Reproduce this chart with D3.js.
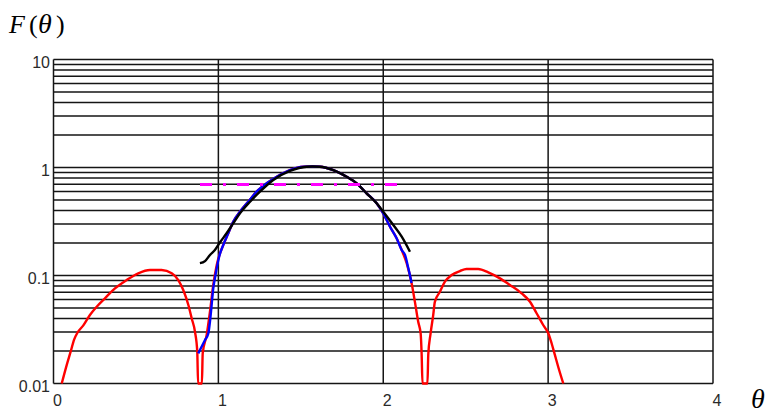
<!DOCTYPE html>
<html><head><meta charset="utf-8">
<script src="https://cdn.jsdelivr.net/npm/d3@7"></script>
<style>
html,body{margin:0;padding:0;background:#fff;overflow:hidden;}
svg{display:block;}
</style></head>
<body>
<svg id="chart" width="771" height="414"></svg>
<script>
// ---- data ----
const xTicks = [0, 1, 2, 3, 4];
const yTicks = [0.01, 0.1, 1, 10];
const yTickLabels = ["0.01", "0.1", "1", "10"];

// red: full pattern F(theta)
const redTheta = [0.050,0.080,0.104,0.125,0.145,0.181,0.221,0.262,0.312,0.373,0.444,0.514,0.585,0.656,0.717,0.757,0.787,0.818,0.838,0.858,0.872,0.877,0.889,0.900,0.905,0.929,0.949,0.969,0.990,1.030,1.060,1.090,1.131,1.181,1.232,1.293,1.354,1.434,1.515,1.571,1.616,1.697,1.778,1.839,1.899,1.960,2.000,2.041,2.081,2.112,2.142,2.172,2.192,2.212,2.227,2.233,2.238,2.253,2.268,2.273,2.287,2.303,2.313,2.344,2.374,2.415,2.465,2.505,2.576,2.637,2.708,2.768,2.839,2.890,2.930,2.970,3.001,3.021,3.041,3.061,3.092];
const redF = [0.0098,0.0148,0.0197,0.0255,0.0295,0.0345,0.0431,0.0514,0.0615,0.076,0.0908,0.1047,0.1124,0.1124,0.1047,0.0908,0.0734,0.0533,0.0402,0.0302,0.0197,0.01,0.002,0.01,0.019,0.0281,0.0462,0.0817,0.125,0.192,0.246,0.315,0.39,0.482,0.597,0.714,0.822,0.948,1.017,1.02,1.017,0.948,0.822,0.714,0.577,0.466,0.375,0.283,0.221,0.172,0.130,0.085,0.057,0.0373,0.029,0.0184,0.01,0.002,0.01,0.0184,0.029,0.043,0.057,0.0708,0.0876,0.101,0.110,0.115,0.115,0.107,0.094,0.0817,0.0684,0.0572,0.0447,0.0348,0.0292,0.0236,0.0184,0.0143,0.0098];

// blue: main-lobe approximation
const blueTheta = [0.878,0.919,0.939,0.949,0.959,0.969,0.979,0.990,1.005,1.030,1.060,1.090,1.131,1.181,1.232,1.293,1.354,1.434,1.515,1.571,1.616,1.697,1.778,1.839,1.899,1.960,2.000,2.041,2.081,2.112,2.132,2.152,2.172];
const blueF = [0.019,0.0253,0.029,0.0374,0.053,0.076,0.094,0.117,0.150,0.192,0.246,0.315,0.39,0.482,0.597,0.714,0.822,0.948,1.017,1.02,1.017,0.948,0.822,0.714,0.577,0.466,0.375,0.283,0.221,0.172,0.155,0.117,0.085];

// black: parabolic (log) approximation
const blackTheta = [0.888,0.919,0.949,0.979,1.010,1.050,1.090,1.131,1.192,1.252,1.333,1.434,1.535,1.571,1.616,1.697,1.778,1.839,1.899,1.960,2.000,2.061,2.112,2.162];
const blackF = [0.130,0.136,0.155,0.172,0.203,0.246,0.304,0.377,0.482,0.597,0.766,0.929,1.017,1.02,1.017,0.948,0.822,0.714,0.577,0.466,0.39,0.294,0.229,0.166];

// magenta: half-power level
const halfTheta = [0.889, 2.142];
const halfF = [0.707, 0.707];

// ---- drawing ----
const svg = d3.select("#chart");
const x = d3.scaleLinear().domain([0, 4]).range([53.5, 713]);
const y = d3.scaleLog().domain([0.01, 10]).range([383.5, 59.5]).clamp(true);

// grid lines (every k*10^n)
const gridY = [];
[0.01, 0.1, 1].forEach(d => { for (let k = 1; k <= 10; k++) gridY.push(+(k * d).toPrecision(3)); });
const grid = svg.append("g");
grid.selectAll("line.h").data(Array.from(new Set(gridY))).join("line")
  .attr("x1", x(0)).attr("x2", x(4))
  .attr("y1", d => y(d)).attr("y2", d => y(d))
  .attr("stroke", "#151515").attr("stroke-width", 1.5);
grid.selectAll("line.v").data(xTicks).join("line")
  .attr("x1", d => x(d)).attr("x2", d => x(d))
  .attr("y1", y(0.01)).attr("y2", y(10))
  .attr("stroke", "#151515").attr("stroke-width", 1.5);

// tick labels
svg.append("g").selectAll("text").data(yTicks).join("text")
  .attr("x", 50).attr("y", d => y(d) + 8)
  .attr("text-anchor", "end")
  .attr("font-family", "'Liberation Sans', Arial, sans-serif")
  .attr("font-size", 16).attr("fill", "#2a2a2a")
  .text((d, i) => yTickLabels[i]);
svg.append("g").selectAll("text").data(xTicks).join("text")
  .attr("x", d => x(d) - 0.5).attr("y", 406)
  .attr("text-anchor", "start")
  .attr("font-family", "'Liberation Sans', Arial, sans-serif")
  .attr("font-size", 16).attr("fill", "#2a2a2a")
  .text(d => d);

// curves
const line = d3.line().x(d => x(d[0])).y(d => y(d[1])).curve(d3.curveMonotoneX);
function series(t, f) { return t.map((v, i) => [v, f[i]]); }
const curves = svg.append("g").attr("fill", "none").attr("stroke-linejoin", "round");
curves.append("path").datum(series(redTheta, redF)).attr("d", line)
  .attr("stroke", "#ff0000").attr("stroke-width", 2.4);
curves.append("path").datum(series(blueTheta, blueF)).attr("d", line)
  .attr("stroke", "#0000ff").attr("stroke-width", 2.4);
curves.append("path").datum(series(blackTheta, blackF)).attr("d", line)
  .attr("stroke", "#000000").attr("stroke-width", 2.4);
curves.append("path").datum(series(halfTheta, halfF)).attr("d", d3.line().x(d => x(d[0])).y(d => Math.round(y(d[1])) + 0.5))
  .attr("stroke", "#ff00ff").attr("stroke-width", 3)
  .attr("shape-rendering", "crispEdges")
  .attr("stroke-dasharray", "12,11,3,11");

// axis titles
const ft = svg.append("text").attr("y", 33)
  .attr("font-family", "'Liberation Serif', 'Times New Roman', serif")
  .attr("font-size", 26).attr("fill", "#000");
ft.append("tspan").attr("x", 9).attr("font-style", "italic").text("F");
ft.append("tspan").attr("x", 29).text("(");
ft.append("tspan").attr("x", 38).attr("font-style", "italic").attr("font-size", 28).text("θ");
ft.append("tspan").attr("x", 56).text(")");

svg.append("text").attr("x", 751).attr("y", 408)
  .attr("font-family", "'Liberation Serif', 'Times New Roman', serif")
  .attr("font-style", "italic").attr("font-size", 28).attr("fill", "#000")
  .text("θ");
</script>
</body></html>
